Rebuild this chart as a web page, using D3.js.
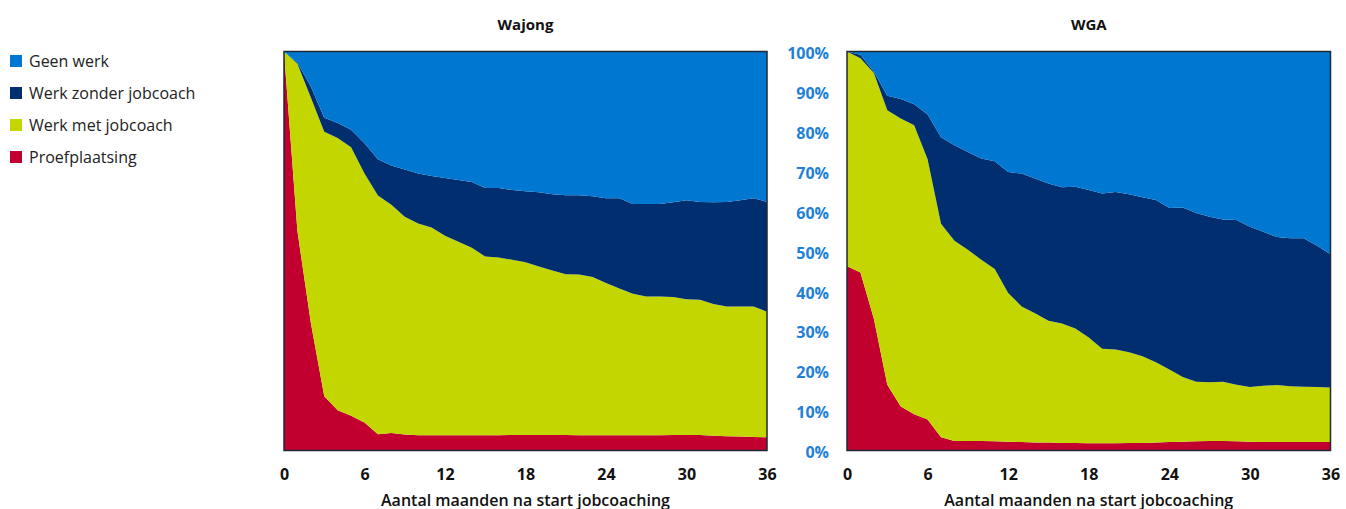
<!DOCTYPE html>
<html>
<head>
<meta charset="utf-8">
<script src="https://cdn.jsdelivr.net/npm/d3@7"></script>
<style>
  body { margin: 0; background: #fff; }
  svg { display: block; }
  text { font-family: "Open Sans", "Noto Sans", sans-serif; }
</style>
</head>
<body>
<svg id="chart" width="1346" height="509"></svg>
<script>
// Months since start of job coaching
const months = [0,1,2,3,4,5,6,7,8,9,10,11,12,13,14,15,16,17,18,19,20,21,22,23,24,25,26,27,28,29,30,31,32,33,34,35,36];

// Series (stacked bottom to top) and their colours
const seriesKeys = ["Proefplaatsing", "Werk met jobcoach", "Werk zonder jobcoach", "Geen werk"];
const seriesColors = ["#c20030", "#c4d600", "#002e6e", "#0078d2"];
const legendOrder = ["Geen werk", "Werk zonder jobcoach", "Werk met jobcoach", "Proefplaatsing"];

// Wajong: share (%) per month
const wajongProef = [100,55,32,13.6,10.1,8.7,7.0,4.1,4.4,4.0,3.8,3.8,3.8,3.8,3.8,3.8,3.8,3.9,3.9,3.9,3.9,3.9,3.8,3.8,3.8,3.8,3.8,3.8,3.8,3.9,3.9,3.9,3.7,3.6,3.5,3.4,3.3];
const wajongMet = [0,41.9,56.5,66.3,68.2,67.3,62.4,59.8,57.2,54.6,53.1,52.1,50.0,48.5,47.0,44.8,44.6,43.9,43.3,42.2,41.2,40.3,40.3,39.7,38.2,36.8,35.5,34.8,34.8,34.6,34.0,33.9,33.0,32.5,32.6,32.7,31.5];
const wajongZonder = [0,0.3,2.7,3.5,3.8,4.4,7.6,9.1,9.8,11.8,12.5,12.9,14.5,15.5,16.5,17.2,17.4,17.5,17.8,18.6,19.1,19.8,19.9,20.2,21.2,22.6,22.5,23.2,23.2,23.7,24.8,24.5,25.5,26.2,26.6,27.1,27.5];
const wajongGeen = [0,2.8,8.8,16.6,17.9,19.6,23.0,27.0,28.6,29.6,30.6,31.2,31.7,32.2,32.7,34.2,34.2,34.7,35.0,35.3,35.8,36.0,36.0,36.3,36.8,36.8,38.2,38.2,38.2,37.8,37.3,37.7,37.8,37.7,37.3,36.8,37.7];

// WGA: share (%) per month
const wgaProef = [46.2,44.6,33.0,16.5,11.0,9.1,7.8,3.3,2.4,2.4,2.4,2.3,2.2,2.1,2.0,2.0,1.9,1.9,1.8,1.8,1.8,1.9,1.9,2.0,2.1,2.2,2.3,2.4,2.4,2.3,2.2,2.1,2.1,2.1,2.1,2.1,2.1];
const wgaMet = [53.8,53.7,61.6,68.8,72.2,72.4,65.2,53.5,50.2,47.9,45.4,43.2,37.3,34.0,32.4,30.5,29.9,28.7,26.5,23.7,23.5,22.7,21.7,20.1,18.2,16.2,14.9,14.7,14.8,14.2,13.7,14.1,14.3,14.0,13.9,13.8,13.7];
const wgaZonder = [0,0.9,0.3,3.6,4.9,5.3,11.2,21.7,23.9,24.5,25.4,27.0,30.3,33.3,33.8,34.4,34.2,35.5,37.0,38.9,39.5,39.6,39.9,40.7,40.5,42.5,42.3,41.5,40.7,41.3,40.2,38.6,37.1,37.1,37.2,35.4,33.4];
const wgaGeen = [0,0.8,5.1,11.1,11.9,13.2,15.8,21.5,23.5,25.2,26.8,27.5,30.2,30.6,31.8,33.1,34.0,33.9,34.7,35.6,35.2,35.8,36.5,37.2,39.2,39.1,40.5,41.4,42.1,42.2,43.9,45.2,46.5,46.8,46.8,48.7,50.8];

// Axis ticks
const xTicks = [0, 6, 12, 18, 24, 30, 36];
const yTicks = [0, 10, 20, 30, 40, 50, 60, 70, 80, 90, 100];

const panels = [
  { title: "Wajong", left: 284, right: 767,
    series: [wajongProef, wajongMet, wajongZonder, wajongGeen] },
  { title: "WGA", left: 847, right: 1330.5,
    series: [wgaProef, wgaMet, wgaZonder, wgaGeen] }
];

const svg = d3.select("#chart");
const y = d3.scaleLinear().domain([0, 100]).range([450.5, 51.5]);
const color = d3.scaleOrdinal().domain(seriesKeys).range(seriesColors);

panels.forEach(p => {
  const x = d3.scaleLinear().domain([0, 36]).range([p.left, p.right]);
  const rows = months.map((m, i) => {
    const row = { month: m };
    seriesKeys.forEach((k, j) => { row[k] = p.series[j][i]; });
    return row;
  });
  const stacked = d3.stack().keys(seriesKeys)(rows);
  const area = d3.area()
    .x(d => x(d.data.month))
    .y0(d => y(Math.min(100, d[0])))
    .y1(d => y(Math.min(100, d[1])));

  const g = svg.append("g");
  g.selectAll("path.layer")
    .data(stacked)
    .join("path")
    .attr("class", "layer")
    .attr("fill", d => color(d.key))
    .attr("d", area);

  // plot frame
  g.append("rect")
    .attr("x", p.left).attr("y", y(100))
    .attr("width", p.right - p.left).attr("height", y(0) - y(100))
    .attr("fill", "none").attr("stroke", "#1d2a36").attr("stroke-width", 1.5);

  // panel title
  svg.append("text")
    .attr("x", (p.left + p.right) / 2).attr("y", 30)
    .attr("text-anchor", "middle")
    .attr("font-size", 15).attr("font-weight", 700).attr("fill", "#111")
    .text(p.title);

  // x axis
  const xAxis = svg.append("g")
    .attr("transform", `translate(0,${y(0)})`)
    .call(d3.axisBottom(x).tickValues(xTicks).tickSize(0).tickPadding(18));
  xAxis.select(".domain").remove();
  xAxis.selectAll("text")
    .attr("font-size", 16).attr("font-weight", 700).attr("fill", "#111")
    .style("font-family", "\"Open Sans\", sans-serif");

  svg.append("text")
    .attr("x", (p.left + p.right) / 2).attr("y", 506)
    .attr("text-anchor", "middle")
    .attr("font-size", 16).attr("font-weight", 600).attr("fill", "#111")
    .text("Aantal maanden na start jobcoaching");
});

// shared percentage axis between the panels
const yAxis = svg.append("g")
  .attr("transform", "translate(829,2)")
  .call(d3.axisLeft(y).tickValues(yTicks).tickSize(0).tickPadding(0).tickFormat(d => d + "%"));
yAxis.select(".domain").remove();
yAxis.selectAll("text")
  .attr("font-size", 16).attr("font-weight", 700).attr("fill", "#1e80d6")
  .style("font-family", "\"Open Sans\", sans-serif");

// legend
const legend = svg.append("g");
legendOrder.forEach((k, i) => {
  const row = legend.append("g").attr("transform", `translate(10,${55 + i * 32})`);
  row.append("rect").attr("width", 12).attr("height", 12).attr("fill", color(k));
  row.append("text")
    .attr("x", 19).attr("y", 11.5)
    .attr("font-size", 16).attr("fill", "#222")
    .text(k);
});
</script>
</body>
</html>
